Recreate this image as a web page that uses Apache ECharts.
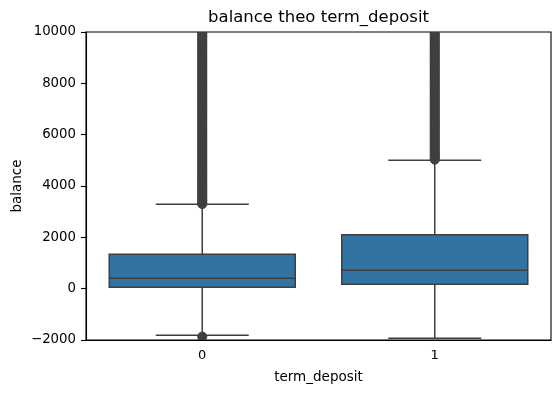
<!DOCTYPE html>
<html>
<head>
<meta charset="utf-8">
<script src="https://cdn.jsdelivr.net/npm/echarts@6/dist/echarts.min.js"></script>
<style>html,body{margin:0;padding:0;background:#fff}#c{width:560px;height:393px}</style>
</head>
<body>
<div id="c"></div>
<script>
const categories = ['0', '1'];
const whiskerLow = [-1817, -1934];
const q1 = [53, 170];
const median = [404, 716];
const q3 = [1339, 2103];
const whiskerHigh = [3287, 5001];
const fliers0 = [-1870, 3300, 3385, 3460, 3545, 3630, 3715, 3800, 3890, 3975, 4060, 4155, 4240, 4330, 4420, 4510, 4605, 4695, 4790, 4880, 4970, 5065, 5160, 5255, 5350, 5440, 5540, 5635, 5730, 5825, 5920, 6020, 6115, 6210, 6310, 6405, 6500, 6600, 6695, 6790, 6890, 6985, 7080, 7180, 7275, 7370, 7470, 7565, 7660, 7760, 7855, 7950, 8050, 8145, 8240, 8340, 8435, 8530, 8630, 8725, 8820, 8920, 9015, 9110, 9210, 9305, 9400, 9500, 9595, 9690, 9790, 9880, 9960];
const fliers1 = [5030, 5115, 5195, 5285, 5370, 5455, 5545, 5630, 5715, 5805, 5890, 5975, 6065, 6150, 6240, 6325, 6410, 6500, 6585, 6675, 6760, 6845, 6935, 7020, 7110, 7195, 7280, 7370, 7455, 7545, 7640, 7730, 7825, 7920, 8010, 8105, 8200, 8290, 8385, 8480, 8570, 8665, 8760, 8850, 8945, 9040, 9130, 9225, 9320, 9410, 9505, 9600, 9690, 9780, 9880, 9960];
const yTicks = {min: -2000, max: 10000, interval: 2000};

const LINE = '#3f3f3f';
const FILL = '#3274a1';
const FONT = 'DejaVu Sans';

const boxData = categories.map((c, i) => [i, whiskerLow[i], q1[i], median[i], q3[i], whiskerHigh[i]]);
const flierData = [];
fliers0.forEach(v => flierData.push([0, v]));
fliers1.forEach(v => flierData.push([1, v]));

const chart = echarts.init(document.getElementById('c'), null, {renderer: 'canvas'});
chart.setOption({
  animation: false,
  backgroundColor: '#fff',
  graphic: [{
    type: 'text', x: 318.5, y: 17.5,
    style: {text: 'balance theo term_deposit', fill: '#000', font: '16.5px "DejaVu Sans"', textAlign: 'center', textVerticalAlign: 'middle'}
  }],
  grid: {left: 86, right: 9, top: 32, bottom: 53, containLabel: false, outerBoundsMode: 'none', show: true, borderColor: '#000', borderWidth: 1.1, backgroundColor: 'transparent'},
  xAxis: {
    type: 'category', data: categories, boundaryGap: true,
    name: 'term_deposit', nameLocation: 'middle', nameGap: 30, nameMoveOverlap: false,
    nameTextStyle: {color: '#000', fontFamily: FONT, fontSize: 13.5},
    axisLine: {onZero: false, lineStyle: {color: '#000', width: 1.1}},
    axisTick: {alignWithLabel: true, length: 5, lineStyle: {color: '#000', width: 1.1}},
    axisLabel: {color: '#000', fontFamily: FONT, fontSize: 13, margin: 9},
    splitLine: {show: false}
  },
  yAxis: {
    type: 'value', min: yTicks.min, max: yTicks.max, interval: yTicks.interval,
    name: 'balance', nameLocation: 'middle', nameGap: 62, nameRotate: 90, nameMoveOverlap: false,
    nameTextStyle: {color: '#000', fontFamily: FONT, fontSize: 13.5},
    axisLine: {show: true, onZero: false, lineStyle: {color: '#000', width: 1.1}},
    axisTick: {show: true, length: 5, lineStyle: {color: '#000', width: 1.1}},
    axisLabel: {color: '#000', fontFamily: FONT, fontSize: 13.3, margin: 10,
      formatter: v => String(v).replace('-', '\u2212')},
    splitLine: {show: false}
  },
  series: [{
    type: 'custom',
    data: boxData,
    encode: {x: 0, y: [1, 2, 3, 4, 5]},
    z: 2,
    renderItem: function (params, api) {
      const x = api.value(0);
      const pMin = api.coord([x, api.value(1)]);
      const pQ1 = api.coord([x, api.value(2)]);
      const pMed = api.coord([x, api.value(3)]);
      const pQ3 = api.coord([x, api.value(4)]);
      const pMax = api.coord([x, api.value(5)]);
      const bw = api.size([1, 0])[0] * 0.8;
      const cx = pMin[0];
      const ls = {stroke: LINE, lineWidth: 1.5};
      return {
        type: 'group',
        children: [
          {type: 'line', shape: {x1: cx, y1: pQ3[1], x2: cx, y2: pMax[1]}, style: ls},
          {type: 'line', shape: {x1: cx, y1: pQ1[1], x2: cx, y2: pMin[1]}, style: ls},
          {type: 'line', shape: {x1: cx - bw / 4, y1: pMax[1], x2: cx + bw / 4, y2: pMax[1]}, style: ls},
          {type: 'line', shape: {x1: cx - bw / 4, y1: pMin[1], x2: cx + bw / 4, y2: pMin[1]}, style: ls},
          {type: 'rect', shape: {x: cx - bw / 2, y: pQ3[1], width: bw, height: pQ1[1] - pQ3[1]}, style: {fill: FILL, stroke: LINE, lineWidth: 1.5}},
          {type: 'line', shape: {x1: cx - bw / 2, y1: pMed[1], x2: cx + bw / 2, y2: pMed[1]}, style: ls}
        ]
      };
    }
  }, {
    type: 'custom',
    data: flierData,
    encode: {x: 0, y: 1},
    clip: true,
    z: 3,
    renderItem: function (params, api) {
      const p = api.coord([api.value(0), api.value(1)]);
      return {type: 'circle', shape: {cx: p[0], cy: p[1], r: 4.6}, style: {fill: LINE, stroke: LINE, lineWidth: 1}};
    }
  }]
});
</script>
</body>
</html>
